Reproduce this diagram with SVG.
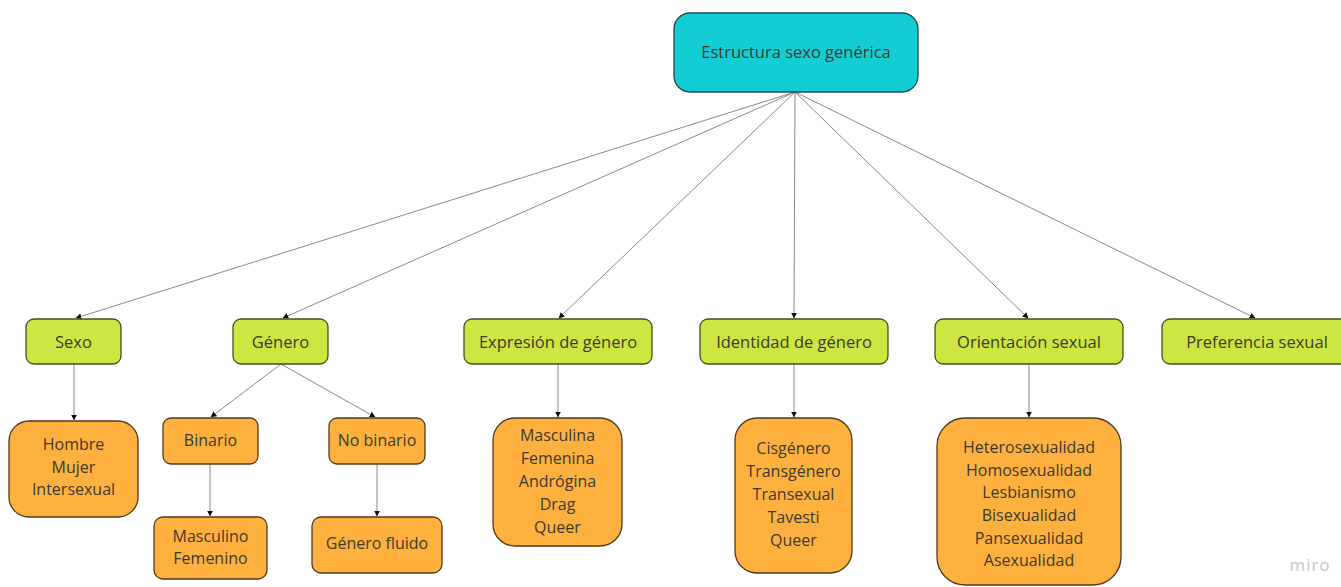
<svg xmlns="http://www.w3.org/2000/svg" width="1341" height="587" viewBox="0 0 1341 587">
<defs>
<marker id="ah" viewBox="0 0 10 10" refX="9" refY="5" markerWidth="6" markerHeight="6" orient="auto" markerUnits="userSpaceOnUse">
<path d="M0,0 L10,5 L0,10 z" fill="#111"/>
</marker>
<style>
.t{font-family:"Open Sans","Liberation Sans",sans-serif;fill:#3b3a2c;text-anchor:middle;}
.h{font-size:16.5px;}
.g rect{fill:#cde642;stroke:#4a4a2a;stroke-width:1.3;}
.o rect{fill:#feb13f;stroke:#4f3a1e;stroke-width:1.3;}
.c line{stroke:#8a8a8a;stroke-width:1;marker-end:url(#ah);}
</style>
</defs>
<rect width="1341" height="587" fill="#ffffff"/>
<g class="c" id="connectors">
<line x1="795" y1="92" x2="76" y2="318"/>
<line x1="795" y1="92" x2="283" y2="318"/>
<line x1="795" y1="92" x2="559" y2="318"/>
<line x1="795" y1="92" x2="794" y2="318"/>
<line x1="795" y1="92" x2="1028" y2="318"/>
<line x1="795" y1="92" x2="1255" y2="318"/>
<line x1="74" y1="364" x2="74" y2="420"/>
<line x1="281" y1="364" x2="211" y2="417"/>
<line x1="281" y1="364" x2="375" y2="417"/>
<line x1="210" y1="464" x2="210" y2="516"/>
<line x1="377" y1="464" x2="377" y2="516"/>
<line x1="558" y1="364" x2="558" y2="417"/>
<line x1="794" y1="364" x2="794" y2="417"/>
<line x1="1029" y1="364" x2="1029" y2="417"/>
</g>
<g id="root">
<rect x="674" y="13" width="244" height="79" rx="16" fill="#13cdd4" stroke="#1f4a4c" stroke-width="1.3"/>
<text class="t h" x="796" y="58">Estructura sexo genérica</text>
</g>
<g id="sexo" class="g">
<rect x="26" y="319" width="95" height="45" rx="8"/>
<text class="t h" x="73.5" y="348">Sexo</text>
</g>
<g id="genero" class="g">
<rect x="233" y="319" width="95" height="45" rx="8"/>
<text class="t h" x="280.5" y="348">Género</text>
</g>
<g id="expresion" class="g">
<rect x="464" y="319" width="188" height="45" rx="8"/>
<text class="t h" x="558" y="348">Expresión de género</text>
</g>
<g id="identidad" class="g">
<rect x="700" y="319" width="188" height="45" rx="8"/>
<text class="t h" x="794" y="348">Identidad de género</text>
</g>
<g id="orientacion" class="g">
<rect x="935" y="319" width="188" height="45" rx="8"/>
<text class="t h" x="1029" y="348">Orientación sexual</text>
</g>
<g id="preferencia" class="g">
<rect x="1162" y="319" width="190" height="45" rx="8"/>
<text class="t h" x="1257" y="348">Preferencia sexual</text>
</g>
<g id="sexo-list" class="o">
<rect x="9" y="421" width="129" height="96" rx="20"/>
<text class="t" font-size="16"><tspan x="73.5" y="450">Hombre</tspan><tspan x="73.5" y="473">Mujer</tspan><tspan x="73.5" y="495">Intersexual</tspan></text>
</g>
<g id="binario" class="o">
<rect x="163" y="418" width="95" height="46" rx="8"/>
<text class="t" x="210.5" y="446" font-size="16">Binario</text>
</g>
<g id="nobinario" class="o">
<rect x="329" y="418" width="96" height="46" rx="8"/>
<text class="t" x="377" y="446" font-size="16">No binario</text>
</g>
<g id="binario-list" class="o">
<rect x="154" y="517" width="113" height="62" rx="9"/>
<text class="t" font-size="16"><tspan x="210.5" y="542">Masculino</tspan><tspan x="210.5" y="564">Femenino</tspan></text>
</g>
<g id="fluido" class="o">
<rect x="312" y="517" width="130" height="56" rx="9"/>
<text class="t" x="377" y="549" font-size="16">Género fluido</text>
</g>
<g id="expresion-list" class="o">
<rect x="493" y="418" width="129" height="128" rx="22"/>
<text class="t" font-size="16"><tspan x="557.5" y="441">Masculina</tspan><tspan x="557.5" y="464">Femenina</tspan><tspan x="557.5" y="487">Andrógina</tspan><tspan x="557.5" y="510">Drag</tspan><tspan x="557.5" y="533">Queer</tspan></text>
</g>
<g id="identidad-list" class="o">
<rect x="735" y="418" width="117" height="155" rx="22"/>
<text class="t" font-size="16"><tspan x="793.5" y="454">Cisgénero</tspan><tspan x="793.5" y="477">Transgénero</tspan><tspan x="793.5" y="500">Transexual</tspan><tspan x="793.5" y="523">Tavesti</tspan><tspan x="793.5" y="546">Queer</tspan></text>
</g>
<g id="orientacion-list" class="o">
<rect x="937" y="418" width="184" height="167" rx="28"/>
<text class="t" font-size="16"><tspan x="1029" y="453">Heterosexualidad</tspan><tspan x="1029" y="476">Homosexualidad</tspan><tspan x="1029" y="498">Lesbianismo</tspan><tspan x="1029" y="521">Bisexualidad</tspan><tspan x="1029" y="544">Pansexualidad</tspan><tspan x="1029" y="566">Asexualidad</tspan></text>
</g>
<text x="1310" y="571" font-family="'Open Sans','Liberation Sans',sans-serif" font-size="17" fill="#c8c8c8" text-anchor="middle" letter-spacing="1">miro</text>
</svg>
